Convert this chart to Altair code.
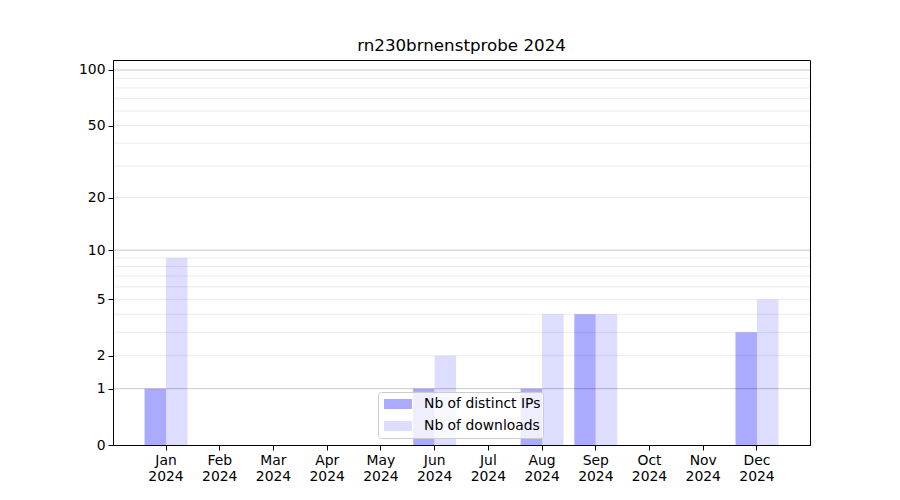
import altair as alt
import pandas as pd

months = ["Jan", "Feb", "Mar", "Apr", "May", "Jun", "Jul", "Aug", "Sep", "Oct", "Nov", "Dec"]
year = "2024"
series_names = ["Nb of distinct IPs", "Nb of downloads"]
distinct_ips = [1, 0, 0, 0, 0, 1, 0, 1, 4, 0, 0, 3]
downloads = [9, 0, 0, 0, 0, 2, 0, 4, 4, 0, 0, 5]
y_ticks = [0, 1, 2, 5, 10, 20, 50, 100]
major_grid = [1, 10, 100]
minor_grid = [2, 3, 4, 5, 6, 7, 8, 9, 20, 30, 40, 50, 60, 70, 80, 90]
colors = ["#aaaaff", "#ddddff"]
title_text = "rn230brnenstprobe 2024"

rows = []
for m, a, b in zip(months, distinct_ips, downloads):
    rows.append({"month": f"{m} {year}", "series": series_names[0], "value": a})
    rows.append({"month": f"{m} {year}", "series": series_names[1], "value": b})
df = pd.DataFrame(rows)
month_labels = [f"{m} {year}" for m in months]

FONT = "DejaVu Sans"
yscale = alt.Scale(type="symlog", domain=[0, 113.2], nice=False, zero=True)
yaxis = alt.Axis(title=None, values=y_ticks, grid=False, labelFontSize=13.9,
                 labelColor="black", tickColor="black", domainColor="black",
                 tickSize=5, labelPadding=3, labelFont=FONT, format="d")

bars = alt.Chart(df).mark_bar(clip=True).encode(
    x=alt.X("month:N", sort=month_labels,
            scale=alt.Scale(paddingInner=0.2, paddingOuter=0.587),
            axis=alt.Axis(title=None, labelAngle=0, labelExpr="split(datum.label, ' ')",
                          labelFontSize=13.9, labelLineHeight=16, labelColor="black",
                          tickColor="black", domainColor="black", tickSize=5,
                          labelPadding=3, grid=False, labelFont=FONT)),
    xOffset=alt.XOffset("series:N", sort=series_names,
                        scale=alt.Scale(paddingInner=0, paddingOuter=0)),
    y=alt.Y("value:Q", scale=yscale, axis=yaxis),
    color=alt.Color("series:N", sort=series_names,
                    scale=alt.Scale(domain=series_names, range=colors),
                    legend=alt.Legend(title=None, orient="none", legendX=265, legendY=332,
                                      clipHeight=20, padding=2, symbolOffset=4, labelOffset=12,
                                      cornerRadius=3, fillColor="rgba(255,255,255,0.8)",
                                      strokeColor="#cccccc",
                                      symbolType="M-1,-0.357H1V0.357H-1Z", symbolSize=784,
                                      symbolStrokeWidth=0, symbolOpacity=1,
                                      labelFontSize=13.9, labelFont=FONT, labelColor="black")),
)

major = alt.Chart(pd.DataFrame({"value": major_grid})).mark_rule(
    color="black", opacity=0.22, strokeWidth=1
).encode(y=alt.Y("value:Q", scale=yscale, axis=yaxis))

minor = alt.Chart(pd.DataFrame({"value": minor_grid})).mark_rule(
    color="black", opacity=0.08, strokeWidth=1
).encode(y=alt.Y("value:Q", scale=yscale, axis=yaxis))

chart = alt.layer(bars, minor, major).properties(
    width=697, height=385,
    title=alt.Title(title_text, fontSize=16.7, font=FONT, fontWeight="normal",
                    color="black", offset=5),
    autosize=alt.AutoSizeParams(type="none"),
    padding={"left": 105, "top": 52, "right": 82, "bottom": 47},
).configure(font=FONT).configure_view(stroke="black", strokeWidth=1)

chart.save("out.html", embed_options={"renderer": "svg", "actions": False})
